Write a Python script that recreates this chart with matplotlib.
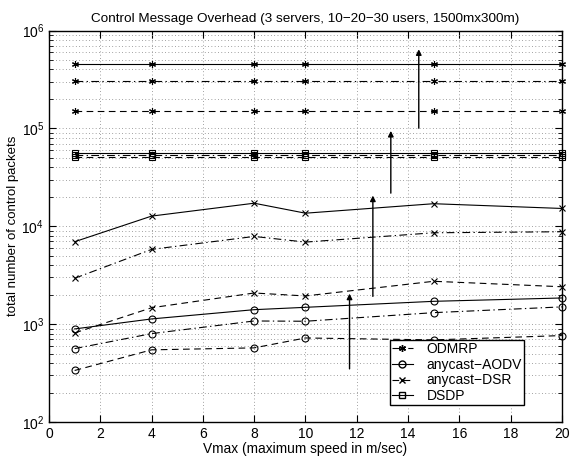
"""
Control message overhead vs Vmax (3 servers, 10-20-30 users).
Replica del grafico estilo MATLAB en escala log.
"""

import matplotlib
matplotlib.use("Agg")
import matplotlib.pyplot as plt
from matplotlib.lines import Line2D
from matplotlib.ticker import LogLocator, MultipleLocator, NullFormatter

plt.rcParams["font.family"] = ["Liberation Sans", "DejaVu Sans"]
plt.rcParams["mathtext.fontset"] = "custom"
plt.rcParams["mathtext.rm"] = "Liberation Sans"

# --- datos ---
VMAX = [1, 4, 8, 10, 15, 20]

# ODMRP (asteriscos): 30, 20, 10 usuarios
ODMRP_30 = [450000, 450000, 450000, 450000, 450000, 450000]
ODMRP_20 = [303000, 303000, 303000, 303000, 303000, 303000]
ODMRP_10 = [151000, 151000, 151000, 151000, 151000, 151000]

# DSDP (cuadrados)
DSDP_30 = [56500, 56500, 56500, 56500, 56500, 56500]
DSDP_20 = [54000, 54000, 54000, 54000, 54000, 54000]
DSDP_10 = [51500, 51500, 51500, 51500, 51500, 51500]

# anycast-DSR (cruces)
DSR_30 = [6950, 12700, 17200, 13600, 17000, 15200]
DSR_20 = [2940, 5800, 7870, 6890, 8580, 8790]
DSR_10 = [813, 1470, 2080, 1940, 2740, 2410]

# anycast-AODV (circulos)
AODV_30 = [893, 1130, 1405, 1485, 1710, 1850]
AODV_20 = [562, 800, 1077, 1070, 1310, 1500]
AODV_10 = [336, 546, 572, 722, 690, 764]

# flechas (x, y_inicio, y_fin)
ARROW_X = [11.72, 12.63, 13.33, 14.42]
ARROW_Y0 = [349, 1920, 21800, 100500]
ARROW_Y1 = [2050, 20600, 94300, 643000]

LEG_LABELS = ["ODMRP", "anycast-AODV", "anycast-DSR", "DSDP"]

# estilos tipo MATLAB
SOLID = "-"
DASHED = (0, (6, 4))
DASHDOT = (0, (7, 3, 1.2, 3))
STAR = (6, 2, 0)

fig = plt.figure(figsize=(5.71, 4.57), dpi=100)
ax = fig.add_axes([0.0858, 0.0766, 0.8982, 0.8566])

LW = 0.8
series = [
    (ODMRP_30, SOLID, STAR, 5), (ODMRP_20, DASHDOT, STAR, 5), (ODMRP_10, DASHED, STAR, 5),
    (DSDP_30, SOLID, "s", 4), (DSDP_20, DASHDOT, "s", 4), (DSDP_10, DASHED, "s", 4),
    (DSR_30, SOLID, "x", 4.5), (DSR_20, DASHDOT, "x", 4.5), (DSR_10, DASHED, "x", 4.5),
    (AODV_30, SOLID, "o", 5), (AODV_20, DASHDOT, "o", 5), (AODV_10, DASHED, "o", 5),
]
for vals, ls, mk, ms in series:
    ax.plot(VMAX, vals, color="k", linestyle=ls, linewidth=LW, marker=mk,
            markersize=ms, markerfacecolor="none", markeredgecolor="k",
            markeredgewidth=0.8, clip_on=False, zorder=3)

for x, y0, y1 in zip(ARROW_X, ARROW_Y0, ARROW_Y1):
    ax.annotate("", xy=(x, y1), xytext=(x, y0),
                arrowprops=dict(arrowstyle="-|>", color="k", lw=1.0,
                                mutation_scale=8, shrinkA=0, shrinkB=0),
                zorder=4)

ax.set_yscale("log")
ax.set_xlim(0, 20)
ax.set_ylim(1e2, 1e6)
ax.xaxis.set_major_locator(MultipleLocator(2))
ax.yaxis.set_major_locator(LogLocator(base=10, numticks=10))
ax.yaxis.set_minor_locator(LogLocator(base=10, subs=range(2, 10), numticks=20))
ax.yaxis.set_minor_formatter(NullFormatter())

GRID = dict(linestyle=(0, (0.8, 2.6)), linewidth=0.7, color="0.55")
ax.grid(True, which="major", **GRID)
ax.grid(True, which="minor", axis="y", **GRID)
ax.set_axisbelow(True)

ax.tick_params(which="both", direction="in", top=True, right=True, labelsize=10)
ax.tick_params(which="major", length=5)
ax.tick_params(which="minor", length=3)
for s in ax.spines.values():
    s.set_linewidth(1.0)

ax.set_xlabel("Vmax (maximum speed in m/sec)", fontsize=9.9, labelpad=1)
ax.set_ylabel("total number of control packets", fontsize=9.5, labelpad=2)
ax.set_title("Control Message Overhead (3 servers, 10\u221220\u221230 users, 1500mx300m)",
             fontsize=9.7, pad=6)

handles = [
    Line2D([], [], color="k", ls=DASHDOT, lw=LW, marker=STAR, ms=5, mfc="none"),
    Line2D([], [], color="k", ls=SOLID, lw=LW, marker="o", ms=5, mfc="none"),
    Line2D([], [], color="k", ls=DASHED, lw=LW, marker="x", ms=4.5, mfc="none"),
    Line2D([], [], color="k", ls=SOLID, lw=LW, marker="s", ms=4, mfc="none"),
]
labels = [l.replace("-", "\u2212") for l in LEG_LABELS]
leg = ax.legend(handles, labels, loc="lower right", bbox_to_anchor=(0.926, 0.043),
                borderaxespad=0, fontsize=10, handlelength=1.5, handletextpad=1.0,
                labelspacing=0.12, borderpad=0.15, fancybox=False,
                framealpha=1, edgecolor="k")
leg.get_frame().set_linewidth(1.0)

fig.savefig("out.png", dpi=100)
